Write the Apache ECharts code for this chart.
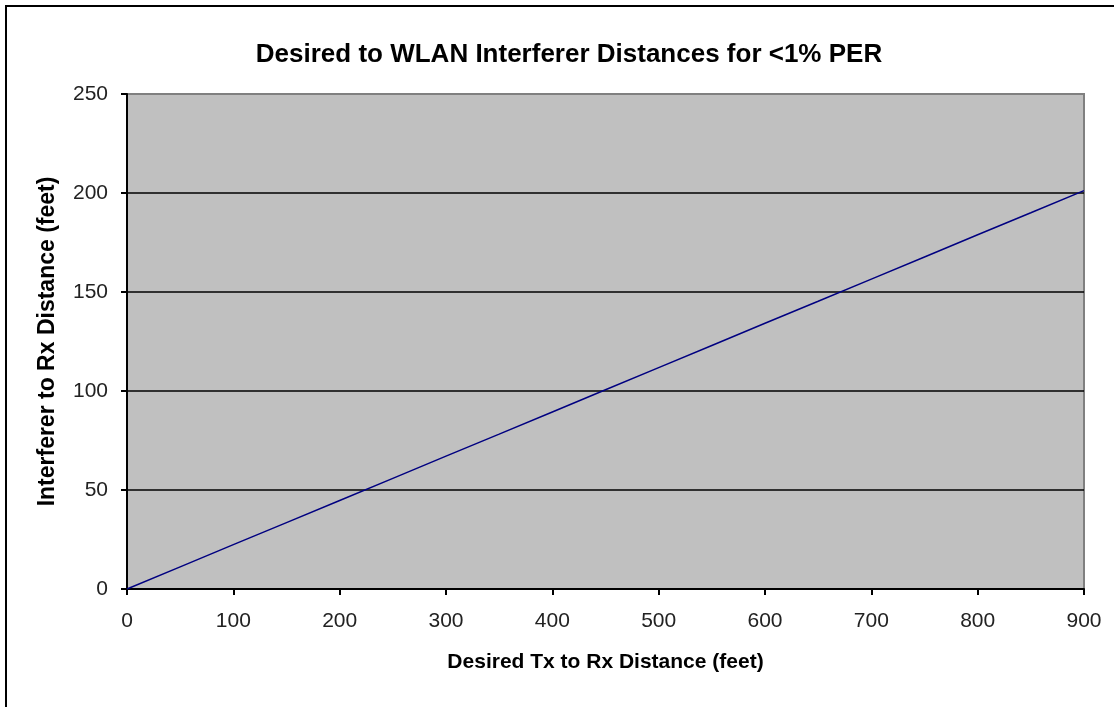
<!DOCTYPE html>
<html>
<head>
<meta charset="utf-8">
<script src="https://cdn.jsdelivr.net/npm/echarts@6/dist/echarts.min.js"></script>
<style>
  html, body { margin: 0; padding: 0; background: #fff; }
  #chart { width: 1114px; height: 707px; }
</style>
</head>
<body>
<div id="chart"></div>
<script>
// 数据
var txDistance = [0, 50, 100, 150, 200, 250, 300, 350, 400, 450, 500, 550, 600, 650, 700, 750, 800, 850, 900];
var interfererDistance = [0, 11.2, 22.4, 33.5, 44.7, 55.9, 67.1, 78.2, 89.4, 100.6, 111.8, 123.0, 134.2, 145.3, 156.5, 167.7, 178.9, 190.0, 201.2];
var yTicks = [0, 50, 100, 150, 200, 250];
var xTicks = [0, 100, 200, 300, 400, 500, 600, 700, 800, 900];

var labelFont = 'Liberation Sans, Arial, sans-serif';

var points = [];
for (var i = 0; i < txDistance.length; i++) {
    points.push([txDistance[i], interfererDistance[i]]);
}

var myChart = echarts.init(document.getElementById('chart'));

var option = {
    animation: false,
    backgroundColor: '#fff',
    title: {
        text: 'Desired to WLAN Interferer Distances for <1% PER',
        left: 564,
        top: 37,
        textAlign: 'center',
        textStyle: { fontFamily: labelFont, fontSize: 26, fontWeight: 'bold', color: '#000' }
    },
    // 外边框 (只露出上边和左边)
    graphic: [{
        type: 'rect',
        shape: { x: 6, y: 6, width: 1300, height: 900 },
        style: { fill: null, stroke: '#000', lineWidth: 2 },
        silent: true,
        z: -1
    }],
    grid: {
        left: 127, right: 30, top: 94, bottom: 118,
        show: true,
        backgroundColor: '#c0c0c0',
        borderColor: '#808080',
        borderWidth: 2
    },
    xAxis: {
        type: 'value',
        min: 0, max: xTicks[xTicks.length - 1], interval: 100,
        name: 'Desired Tx to Rx Distance (feet)',
        nameLocation: 'middle',
        nameGap: 63,
        nameTextStyle: { fontFamily: labelFont, fontSize: 21, fontWeight: 'bold', color: '#000' },
        axisLine: { show: true, lineStyle: { color: '#000', width: 2 } },
        axisTick: { show: true, inside: false, length: 6, lineStyle: { color: '#000', width: 2 } },
        axisLabel: { fontFamily: labelFont, fontSize: 21, color: '#222', margin: 22 },
        splitLine: { show: false }
    },
    yAxis: {
        type: 'value',
        min: 0, max: yTicks[yTicks.length - 1], interval: 50,
        name: 'Interferer to Rx Distance (feet)',
        nameLocation: 'middle',
        nameGap: 68,
        nameTextStyle: { fontFamily: labelFont, fontSize: 23, fontWeight: 'bold', color: '#000' },
        axisLine: { show: true, lineStyle: { color: '#000', width: 2 } },
        axisTick: { show: true, inside: false, length: 6, lineStyle: { color: '#000', width: 2 } },
        axisLabel: { fontFamily: labelFont, fontSize: 21, color: '#222', margin: 19 },
        splitLine: { show: true, lineStyle: { color: ['#000', '#000', '#000', '#000', '#000', '#808080'], width: 1.5 } }
    },
    series: [{
        type: 'line',
        data: points,
        showSymbol: false,
        lineStyle: { color: '#000080', width: 1.5 },
        z: 5
    }]
};

myChart.setOption(option);
</script>
</body>
</html>
